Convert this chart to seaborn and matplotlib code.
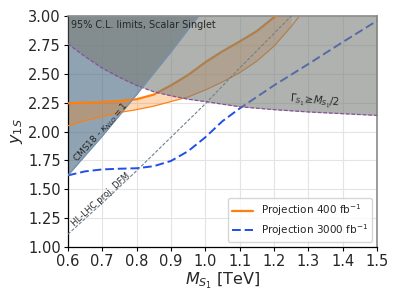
import numpy as np
import pandas as pd
import seaborn as sns
import matplotlib.pyplot as plt

# values
mass_400 = [0.6, 0.65, 0.7, 0.75, 0.8, 0.85, 0.9, 0.95, 1.0, 1.05, 1.1, 1.15, 1.2, 1.25]
y_400 = [2.245, 2.25, 2.255, 2.265, 2.28, 2.32, 2.40, 2.49, 2.60, 2.695, 2.78, 2.87, 2.99, 3.1]
mass_400_low = [0.6, 0.65, 0.7, 0.75, 0.8, 0.85, 0.9, 0.95, 1.0, 1.05, 1.1, 1.15, 1.2, 1.25, 1.3]
y_400_low = [2.05, 2.095, 2.13, 2.165, 2.19, 2.22, 2.26, 2.30, 2.36, 2.43, 2.51, 2.61, 2.74, 2.91, 3.1]

mass_3000 = [0.6, 0.65, 0.7, 0.75, 0.8, 0.85, 0.9, 0.95, 1.0, 1.05, 1.1, 1.2, 1.3, 1.4, 1.5]
y_3000 = [1.62, 1.655, 1.672, 1.678, 1.682, 1.70, 1.745, 1.83, 1.95, 2.09, 2.20, 2.40, 2.585, 2.775, 2.96]

mass_dfm = [0.6, 0.7, 0.8, 0.9, 1.0, 1.1, 1.2, 1.25, 1.3]
y_dfm = [1.11, 1.38, 1.66, 1.95, 2.24, 2.55, 2.85, 3.0, 3.15]

mass_width = [0.6, 0.65, 0.7, 0.75, 0.8, 0.85, 0.9, 0.95, 1.0, 1.1, 1.2, 1.3, 1.4, 1.5]
y_width = [2.76, 2.65, 2.55, 2.47, 2.40, 2.345, 2.31, 2.28, 2.26, 2.215, 2.19, 2.17, 2.155, 2.14]

mass_cms = [0.6, 0.7, 0.8, 0.9, 0.98]
y_cms = [1.62, 1.96, 2.32, 2.69, 3.0]

sns.set_theme(style="whitegrid", rc={"grid.color": "#e4e4e4", "grid.linewidth": 0.8,
                                     "xtick.bottom": True, "ytick.left": True})
plt.rcParams['font.family'] = ['DejaVu Sans']

fig = plt.figure(figsize=(3.99, 2.99), dpi=100)
ax = fig.add_axes([0.170, 0.174, 0.775, 0.772])

# CMS18 excluded region
ax.fill_between(mass_cms, y_cms, 3.0, color='#446680', alpha=0.6, lw=0, zorder=1)

# projections
ax.fill_between(mass_400, y_400_low[:len(mass_400)], y_400, color='tab:orange', alpha=0.3, lw=0, zorder=2)
sns.lineplot(x=mass_400_low, y=y_400_low, color='tab:orange', lw=0.8, ax=ax, zorder=3)
sns.lineplot(x=mass_400, y=y_400, color='tab:orange', lw=1.6, ax=ax, zorder=3,
             label='Projection 400 fb$^{-1}$')
sns.lineplot(x=mass_3000, y=y_3000, color='#1f4fe8', lw=1.4, ax=ax, zorder=3,
             linestyle=(0, (4.5, 2)), label='Projection 3000 fb$^{-1}$')
sns.lineplot(x=mass_dfm, y=y_dfm, color='#6d8193', lw=0.8, ax=ax, zorder=3,
             linestyle=(0, (3, 1.5)))

# width constraint
ax.fill_between(mass_width, y_width, 3.0, color='#7b7f7a', alpha=0.6, lw=0, zorder=4)
sns.lineplot(x=mass_width, y=y_width, color='#86509a', lw=0.9, ax=ax, zorder=5,
             linestyle=(0, (3, 1.5)))
sns.lineplot(x=mass_cms, y=y_cms, color='#7592ad', lw=0.9, ax=ax, zorder=5)

ax.text(0.61, 2.97, '95% C.L. limits, Scalar Singlet', fontsize=6.9, va='top', ha='left', zorder=6)
ax.text(1.32, 2.255, r'$\Gamma_{S_1}\!\geq\! M_{S_1}/2$', fontsize=7.3, ha='center', va='center',
        rotation=-5, zorder=6)
ax.text(0.697, 1.99, r'CMS18 - $\kappa_{NLO}=1$', fontsize=6.5, ha='center', va='center',
        rotation=48, zorder=6)
ax.text(0.695, 1.41, 'HL-LHC proj. DFM', fontsize=6.2, ha='center', va='center',
        rotation=42, zorder=6)

ax.set_xlim(0.6, 1.5)
ax.set_ylim(1.0, 3.0)
ax.set_xticks(np.arange(0.6, 1.51, 0.1))
ax.set_yticks(np.arange(1.0, 3.01, 0.25))
ax.set_xticklabels([f'{v:.1f}' for v in np.arange(0.6, 1.51, 0.1)])
ax.set_yticklabels([f'{v:.2f}' for v in np.arange(1.0, 3.01, 0.25)])
ax.tick_params(labelsize=10.5, length=3, width=0.8, color='black', pad=2)
ax.set_xlabel(r'$M_{S_1}$ [TeV]', fontsize=11.5, labelpad=1)
ax.set_ylabel(r'$y_{1S}$', fontsize=11.5, labelpad=2)

for side in ['left', 'bottom']:
    ax.spines[side].set_color('black')
    ax.spines[side].set_linewidth(0.9)
for side in ['top', 'right']:
    ax.spines[side].set_color('#8a8a8a')
    ax.spines[side].set_linewidth(1.2)

leg = ax.legend(loc='lower right', fontsize=7.5, frameon=True, handlelength=2.0,
                labelspacing=0.35, borderpad=0.4, handletextpad=0.7)
leg.get_frame().set_edgecolor('#cccccc')

fig.savefig('out.png', dpi=100)
